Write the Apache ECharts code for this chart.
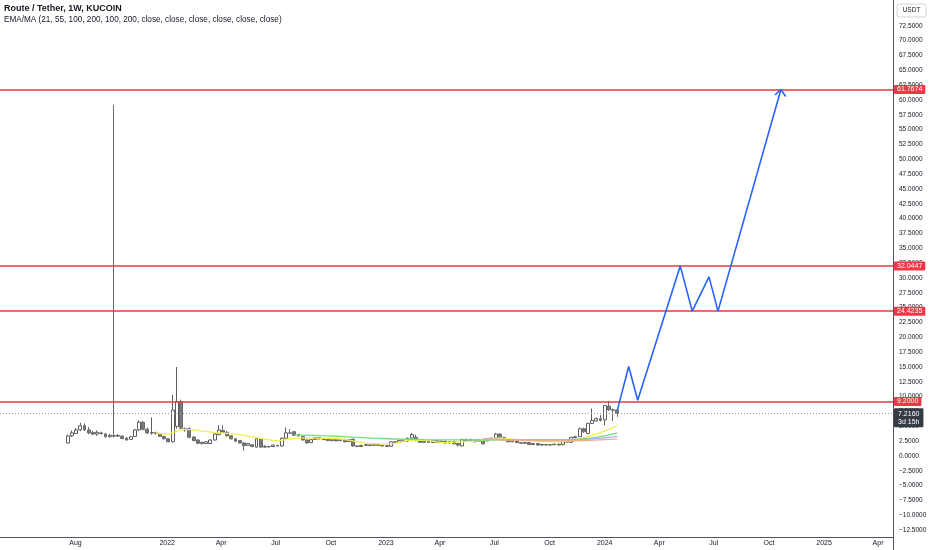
<!DOCTYPE html>
<html><head><meta charset="utf-8">
<script src="https://cdn.jsdelivr.net/npm/echarts@6/dist/echarts.min.js"></script>
<style>html,body{margin:0;padding:0;background:#fff}#c{width:932px;height:550px}</style>
</head><body><div id="c"></div><script>
const titleText = 'Route / Tether, 1W, KUCOIN';
const indicatorText = 'EMA/MA (21, 55, 100, 200, 100, 200, close, close, close, close, close, close)';
const firstWeek = '2021-07-19';
const opens  = [2.2,3.4,3.8,4.4,5.1,4.4,3.95,3.7,3.9,3.7,3.25,3.45,3.35,3.35,3.0,2.8,3.3,4.4,5.7,4.5,3.9,3.9,3.8,3.3,2.9,2.4,5.0,9.2,4.6,4.6,3.2,2.7,2.3,2.1,2.1,2.7,3.6,4.3,4.0,3.4,2.9,2.6,2.2,1.8,1.9,1.5,2.9,1.5,1.6,1.6,1.8,1.7,3.0,3.9,4.1,3.6,3.3,2.7,2.25,2.8,3.1,2.95,2.8,2.6,2.8,2.6,2.8,2.45,2.85,1.7,1.6,1.8,1.9,1.8,1.95,1.8,1.75,1.65,2.4,2.3,2.6,2.5,3.0,3.15,2.6,2.3,2.5,2.3,2.6,2.35,2.5,2.2,2.4,2.1,1.7,2.8,2.5,2.7,2.45,2.55,2.55,2.8,3.0,3.7,3.15,2.7,2.4,2.55,2.25,2.15,2.25,1.95,2.1,1.85,1.95,1.85,1.9,2.0,1.9,2.35,2.3,3.1,3.25,4.6,3.8,5.5,5.9,6.3,6.1,8.4,7.8,7.75];
const closes = [3.4,3.9,4.4,5.1,4.4,3.9,3.7,4.0,3.8,3.25,3.5,3.35,3.45,2.95,2.7,3.25,4.4,5.7,4.5,3.9,3.95,3.8,3.3,2.9,2.4,7.75,9.2,4.7,4.4,3.15,2.6,2.15,2.1,2.4,2.7,3.7,4.4,4.0,3.4,2.9,2.5,2.2,1.75,2.1,1.6,2.9,1.5,1.65,1.55,1.85,1.7,3.0,3.9,3.85,3.5,3.4,2.7,2.2,2.75,3.1,2.9,2.75,2.6,2.85,2.55,2.8,2.4,2.75,1.7,1.6,1.8,1.9,1.75,2.0,1.8,1.7,1.6,2.4,2.3,2.6,2.5,3.0,3.6,2.6,2.3,2.5,2.3,2.6,2.3,2.5,2.2,2.4,2.05,1.85,2.8,2.5,2.8,2.4,2.7,2.05,2.85,3.0,3.7,3.2,2.7,2.4,2.65,2.25,2.15,2.3,1.95,2.1,1.85,1.95,1.85,1.9,2.0,1.85,2.4,2.5,3.15,3.25,4.6,4.1,5.5,6.0,6.3,6.0,8.5,7.8,7.7,7.216];
const lows   = [2.1,3.2,3.7,4.2,4.2,3.7,3.5,3.4,3.6,3.1,3.1,3.1,3.2,2.8,2.6,2.7,3.2,4.2,4.3,3.7,3.6,3.6,3.2,2.8,2.3,2.3,4.6,4.5,4.1,3.0,2.5,2.0,1.95,2.0,2.0,2.6,3.5,3.9,3.3,2.8,2.4,2.1,0.9,1.7,1.5,1.4,1.4,1.4,1.4,1.5,1.6,1.6,2.9,3.7,3.4,3.3,2.6,2.1,2.2,2.7,2.8,2.7,2.5,2.5,2.5,2.5,2.3,2.4,1.6,1.5,1.55,1.75,1.7,1.75,1.75,1.65,1.55,1.6,2.2,2.2,2.4,2.45,2.9,2.5,2.2,2.2,2.2,2.2,2.2,2.3,2.1,2.1,2.0,1.6,1.6,2.4,2.4,2.3,2.4,2.0,2.5,2.7,2.9,3.1,2.6,2.3,2.3,2.2,2.1,2.1,1.9,1.9,1.8,1.8,1.8,1.8,1.85,1.8,1.85,2.3,2.25,3.0,3.2,3.9,3.7,5.4,5.8,5.8,5.2,7.6,5.9,6.6];
const highs  = [3.6,4.3,4.7,5.6,5.5,4.9,4.3,4.3,4.1,3.9,3.7,59.2,3.7,3.5,3.2,3.4,4.6,6.0,5.9,4.8,6.5,4.1,3.9,3.4,3.0,10.3,15.0,9.5,4.8,4.8,3.3,2.8,2.4,2.5,2.8,3.8,5.2,5.2,4.2,3.5,3.0,2.7,2.3,2.2,2.0,3.0,3.0,1.8,1.7,1.9,1.9,3.1,4.8,4.5,4.2,3.7,3.4,2.8,2.8,3.2,3.2,3.0,2.9,2.9,2.9,2.9,2.9,2.8,2.9,1.75,1.85,2.0,1.95,2.05,2.0,1.85,1.8,2.45,2.5,2.7,2.7,3.1,3.9,3.6,2.7,2.6,2.6,2.7,2.7,2.6,2.6,2.5,2.5,2.2,2.9,2.9,2.9,2.8,2.8,2.7,2.9,3.1,3.9,3.8,3.2,2.8,2.7,2.6,2.3,2.35,2.3,2.15,2.15,2.0,2.0,1.95,2.05,2.05,2.5,2.6,3.2,3.4,4.8,4.8,5.6,8.0,6.5,6.9,8.6,9.3,8.0,7.9];

const ema21Idx = [21,24,25,28,30,33,36,40,43,46,50,52,56,60,65,69,73,78,81,85,90,94,99,102,109,117,120,124,128,131];
const ema21Val = [3.85,3.7,3.93,4.5,4.4,4.1,3.93,3.7,3.37,2.98,2.55,2.8,3.05,3.0,2.87,2.42,2.05,2.14,2.65,2.65,2.25,2.4,2.6,3.0,2.7,2.42,2.6,3.26,4.2,5.1];
const ema55Idx = [54,60,65,75,85,99,109,117,124,128,131];
const ema55Val = [3.55,3.45,3.3,2.95,2.75,2.7,2.75,2.7,2.95,3.4,3.9];
const ema100Idx = [99,110,120,128,131];
const ema100Val = [2.95,2.75,2.75,3.05,3.3];
const ma100Idx = [99,110,120,128,131];
const ma100Val = [2.85,2.6,2.55,2.75,2.87];

const levels = [61.7674, 32.0447, 24.4235, 9.2];
const lastPrice = 7.216;
const lastCountdown = '3d 15h';

const pathDates  = ['2024-01-22','2024-02-10','2024-02-25','2024-05-06','2024-05-26','2024-06-23','2024-07-08','2024-10-21'];
const pathValues = [7.7, 15.1, 9.4, 32.04, 24.42, 30.2, 24.42, 61.77];
const arrowDates  = ['2024-10-11','2024-10-21','2024-10-29'];
const arrowValues = [60.85, 61.77, 60.6];

const xTickDates = ['2021-08-01','2022-01-01','2022-04-01','2022-07-01','2022-10-01','2023-01-01','2023-04-01','2023-07-01','2023-10-01','2024-01-01','2024-04-01','2024-07-01','2024-10-01','2025-01-01','2025-04-01'];
const yTicks = [-12.5,-10,-7.5,-5,-2.5,0,2.5,5,7.5,10,12.5,15,17.5,20,22.5,25,27.5,30,32.5,35,37.5,40,42.5,45,47.5,50,52.5,55,57.5,60,62.5,65,67.5,70,72.5];
const xRange = ['2021-03-28','2025-04-26'];
const yRange = [-13.65, 76.86];

const DAY = 86400000;
const t0 = Date.parse(firstWeek);
const xMin = Date.parse(xRange[0]), xMax = Date.parse(xRange[1]);
const dates = opens.map((_, i) => t0 + i * 7 * DAY);
const candleData = dates.map((d, i) => [d, opens[i], closes[i], lows[i], highs[i]]);
const lineFrom = (idx, val) => idx.map((k, i) => [dates[k], val[i]]);
const months = ['Jan','Feb','Mar','Apr','May','Jun','Jul','Aug','Sep','Oct','Nov','Dec'];
const fmtNum = v => (v < 0 ? '\u2212' : '') + Math.abs(v).toFixed(4);
const FONT = 'Liberation Sans, Arial, sans-serif';

const chart = echarts.init(document.getElementById('c'), null, {renderer: 'canvas'});
const redLevelLines = levels.map(v => ({
  yAxis: v,
  lineStyle: {color: '#f23645', width: 1.5, type: 'solid'},
  label: {show: true, position: 'end', distance: 1, formatter: fmtNum(v), color: '#fff',
    backgroundColor: '#f23645', padding: [1, 3, 1, 3], fontSize: 7, fontFamily: FONT, borderRadius: 1}
}));
chart.setOption({
  animation: false,
  backgroundColor: '#ffffff',
  title: {text: titleText, subtext: indicatorText, left: 4, top: 4, itemGap: 3, padding: 0,
    textStyle: {fontSize: 9, fontWeight: 'bold', color: '#131722', fontFamily: FONT},
    subtextStyle: {fontSize: 8.2, color: '#131722', fontFamily: FONT}},
  grid: {left: 0, right: 39, top: 0, bottom: 13, containLabel: false},
  xAxis: {
    type: 'value', min: xMin, max: xMax,
    axisLine: {show: true, onZero: false, lineStyle: {color: '#50535e', width: 1}},
    axisTick: {show: false},
    splitLine: {show: false},
    axisLabel: {
      customValues: xTickDates.map(d => Date.parse(d)),
      formatter: v => { const d = new Date(v); return d.getUTCMonth() === 0 ? String(d.getUTCFullYear()) : months[d.getUTCMonth()]; },
      fontSize: 7, color: '#131722', margin: 3, fontFamily: FONT, hideOverlap: false
    }
  },
  yAxis: {
    type: 'value', position: 'right', min: yRange[0], max: yRange[1],
    axisLine: {show: true, lineStyle: {color: '#50535e', width: 1}},
    axisTick: {show: false},
    splitLine: {show: false},
    axisLabel: {customValues: yTicks, formatter: v => fmtNum(v), fontSize: 6.5, color: '#131722',
      margin: 6, fontFamily: FONT}
  },
  graphic: [
    {type: 'line', shape: {x1: 893.5, y1: 537, x2: 893.5, y2: 550}, style: {stroke: '#50535e', lineWidth: 1}, z: 100},
    {type: 'rect', shape: {x: 897, y: 4, width: 29, height: 13, r: 2},
     style: {fill: '#fff', stroke: '#d1d4dc', lineWidth: 1}, z: 100},
    {type: 'text', x: 911.5, y: 10.5, style: {text: 'USDT', fill: '#131722', fontSize: 6.5,
      fontFamily: FONT, align: 'center', verticalAlign: 'middle'}, z: 101}
  ],
  series: [
    {type: 'candlestick', name: 'price', data: candleData, encode: {x: 0, y: [1, 2, 3, 4]},
      barWidth: 3.4,
      itemStyle: {color: '#ffffff', color0: '#7a7a7a', borderColor: '#5d5d5d', borderColor0: '#6a6a6a', borderWidth: 1},
      markLine: {symbol: ['none', 'none'], silent: true, animation: false,
        data: [
          ...redLevelLines,
          {yAxis: lastPrice, lineStyle: {color: '#9598a1', width: 1, type: [1, 2]}, label: {show: false}}
        ]},
      markPoint: {silent: true, animation: false,
        data: [{coord: [xMax, lastPrice], symbol: 'rect', symbolSize: 0.01,
          label: {show: true, position: 'right', distance: 1, offset: [0, 4.5],
            formatter: fmtNum(lastPrice) + '\n' + lastCountdown, color: '#fff', backgroundColor: '#363a45',
            padding: [2, 4, 1, 4], fontSize: 7, lineHeight: 8, fontFamily: FONT, borderRadius: 1}}]}
    },
    {type: 'line', name: 'EMA 21', data: lineFrom(ema21Idx, ema21Val), smooth: 0.4, symbol: 'none',
      lineStyle: {color: '#f2ee4f', width: 1.3}, z: 3},
    {type: 'line', name: 'EMA 55', data: lineFrom(ema55Idx, ema55Val), smooth: 0.4, symbol: 'none',
      lineStyle: {color: '#6fe27a', width: 1.3}, z: 3},
    {type: 'line', name: 'EMA 100', data: lineFrom(ema100Idx, ema100Val), smooth: 0.4, symbol: 'none',
      lineStyle: {color: '#aab2ea', width: 1.2}, z: 3},
    {type: 'line', name: 'MA 100', data: lineFrom(ma100Idx, ma100Val), smooth: 0.4, symbol: 'none',
      lineStyle: {color: '#f3a886', width: 1.2}, z: 3},
    {type: 'line', name: 'path', data: pathDates.map((d, i) => [Date.parse(d), pathValues[i]]), symbol: 'none',
      lineStyle: {color: '#2962ff', width: 1.6}, z: 5},
    {type: 'line', name: 'arrow', data: arrowDates.map((d, i) => [Date.parse(d), arrowValues[i]]), symbol: 'none',
      lineStyle: {color: '#2962ff', width: 1.6}, z: 5}
  ]
});
</script></body></html>
